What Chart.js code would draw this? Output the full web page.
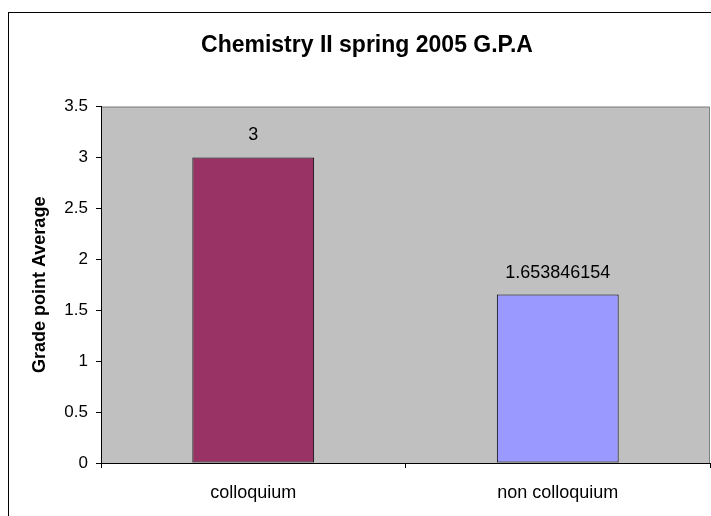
<!DOCTYPE html>
<html>
<head>
<meta charset="utf-8">
<script src="https://cdn.jsdelivr.net/npm/chart.js@4/dist/chart.umd.min.js"></script>
<style>
html,body{margin:0;padding:0;background:#fff;overflow:hidden;}
#wrap{width:711px;height:516px;overflow:hidden;position:relative;}
#box{width:735px;height:516px;position:absolute;left:0;top:0;}
</style>
</head>
<body>
<div id="wrap"><div id="box"><canvas id="c"></canvas></div></div>
<script>
const chartTitle = "Chemistry II spring 2005 G.P.A";
const yAxisTitle = "Grade point Average";
const categories = ["colloquium", "non colloquium"];
const gpaValues = [3, 1.653846154];
const valueLabels = ["3", "1.653846154"];
const barColors = ["#993366", "#9999FF"];
const yTicks = [0, 0.5, 1, 1.5, 2, 2.5, 3, 3.5];

const FONT = "'Liberation Sans', Arial, sans-serif";

const bgPlugin = {
  id: 'bg',
  beforeDraw(chart) {
    const {ctx, chartArea: a} = chart;
    ctx.save();
    ctx.fillStyle = '#fff';
    ctx.fillRect(0, 0, chart.width, chart.height);
    ctx.strokeStyle = '#000';
    ctx.lineWidth = 1;
    ctx.strokeRect(8.5, 12.5, 2000, 2000);
    ctx.fillStyle = '#C0C0C0';
    ctx.fillRect(a.left, a.top, a.right - a.left, a.bottom - a.top);
    ctx.strokeStyle = '#808080';
    ctx.beginPath();
    ctx.moveTo(a.left, a.top + 0.5);
    ctx.lineTo(a.right - 0.5, a.top + 0.5);
    ctx.lineTo(a.right - 0.5, a.bottom);
    ctx.stroke();
    ctx.restore();
  }
};

const labelPlugin = {
  id: 'vlabels',
  afterDatasetsDraw(chart) {
    const {ctx} = chart;
    const meta = chart.getDatasetMeta(0);
    ctx.save();
    ctx.fillStyle = '#000';
    ctx.font = "18px " + FONT;
    ctx.textAlign = 'center';
    ctx.textBaseline = 'middle';
    meta.data.forEach((bar, i) => {
      ctx.fillText(valueLabels[i], bar.x, bar.y - 22);
    });
    ctx.restore();
  }
};

new Chart(document.getElementById('c'), {
  type: 'bar',
  data: {
    labels: categories,
    datasets: [{
      data: gpaValues,
      backgroundColor: barColors,
      borderColor: '#000',
      borderWidth: 1,
      borderSkipped: false,
      categoryPercentage: 1,
      barPercentage: 0.4
    }]
  },
  options: {
    responsive: true,
    maintainAspectRatio: false,
    animation: false,
    devicePixelRatio: 1,
    layout: {padding: {left: 24, right: 25, top: 0, bottom: 0}},
    plugins: {
      legend: {display: false},
      tooltip: {enabled: false},
      title: {
        display: true,
        text: chartTitle,
        color: '#000',
        font: {family: FONT, size: 23, weight: 'bold'},
        padding: {top: 32, bottom: 47}
      }
    },
    scales: {
      x: {
        grid: {display: true, drawOnChartArea: false, offset: true, color: '#000', tickLength: 5, tickColor: '#000'},
        border: {display: true, color: '#000', width: 1},
        ticks: {color: '#000', font: {family: FONT, size: 18}, padding: 14},
        afterFit(s) { s.height = 53; }
      },
      y: {
        min: 0,
        max: 3.5,
        afterBuildTicks(s) { s.ticks = yTicks.map(v => ({value: v})); },
        grid: {display: true, drawOnChartArea: false, color: '#000', tickLength: 5, tickColor: '#000'},
        border: {display: true, color: '#000', width: 1},
        ticks: {color: '#000', font: {family: FONT, size: 17}, padding: 8,
          callback: v => String(v)},
        title: {display: true, text: yAxisTitle, color: '#000',
          font: {family: FONT, size: 18, weight: 'bold'}, padding: {top: 5, bottom: 0}},
        afterFit(s) { s.width = 77; }
      }
    }
  },
  plugins: [bgPlugin, labelPlugin]
});
</script>
</body>
</html>
